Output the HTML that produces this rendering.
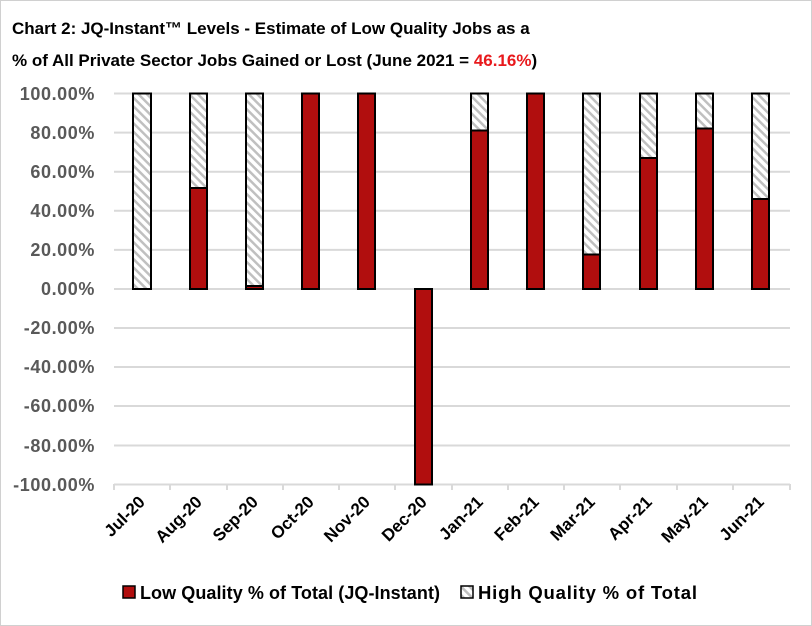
<!DOCTYPE html>
<html><head><meta charset="utf-8"><style>body{margin:0;background:#fff}svg{display:block}</style></head><body>
<svg width="812" height="626" viewBox="0 0 812 626" xmlns="http://www.w3.org/2000/svg" font-family="Liberation Sans, sans-serif" font-weight="bold">
<defs><pattern id="h" width="6" height="6" patternUnits="userSpaceOnUse" patternTransform="rotate(-45)"><rect width="6" height="6" fill="#fff"/><rect width="2.5" height="6" fill="#c0c0c0"/></pattern></defs>
<rect x="0.5" y="0.5" width="811" height="625" fill="#fff" stroke="#d0d0d0"/>
<text x="12" y="34" font-size="17" fill="#000">Chart 2: JQ-Instant™ Levels - Estimate of Low Quality Jobs as a</text>
<text x="12" y="66" font-size="17" fill="#000">% of All Private Sector Jobs Gained or Lost (June 2021  = <tspan fill="#e8191c">46.16%</tspan>)</text>
<g stroke="#d9d9d9" stroke-width="2">
<line x1="114" x2="790" y1="93.5" y2="93.5"/><line x1="114" x2="790" y1="132.6" y2="132.6"/><line x1="114" x2="790" y1="171.7" y2="171.7"/><line x1="114" x2="790" y1="210.8" y2="210.8"/><line x1="114" x2="790" y1="249.9" y2="249.9"/>
<line x1="114" x2="790" y1="328" y2="328"/><line x1="114" x2="790" y1="367" y2="367"/><line x1="114" x2="790" y1="406" y2="406"/><line x1="114" x2="790" y1="445.5" y2="445.5"/><line x1="114" x2="790" y1="484.5" y2="484.5"/>
<line x1="114" x2="790" y1="289" y2="289"/>
<line x1="114" x2="114" y1="484" y2="490"/><line x1="170" x2="170" y1="484" y2="490"/><line x1="227" x2="227" y1="484" y2="490"/><line x1="283" x2="283" y1="484" y2="490"/><line x1="339" x2="339" y1="484" y2="490"/><line x1="395" x2="395" y1="484" y2="490"/><line x1="452" x2="452" y1="484" y2="490"/><line x1="508" x2="508" y1="484" y2="490"/><line x1="564" x2="564" y1="484" y2="490"/><line x1="620" x2="620" y1="484" y2="490"/><line x1="677" x2="677" y1="484" y2="490"/><line x1="733" x2="733" y1="484" y2="490"/><line x1="790" x2="790" y1="484" y2="490"/>
</g>
<g font-size="18" fill="#595959" text-anchor="end" letter-spacing="0.6">
<text x="95" y="100">100.00%</text><text x="95" y="139">80.00%</text><text x="95" y="178">60.00%</text><text x="95" y="217">40.00%</text><text x="95" y="256">20.00%</text><text x="95" y="295">0.00%</text><text x="95" y="334">-20.00%</text><text x="95" y="373">-40.00%</text><text x="95" y="412">-60.00%</text><text x="95" y="452">-80.00%</text><text x="95" y="491">-100.00%</text>
</g>
<g stroke="#000" stroke-width="2">
<rect x="133" y="93.5" width="18" height="195.5" fill="url(#h)"/>
<rect x="190" y="93.5" width="17" height="94.5" fill="url(#h)"/><rect x="190" y="188" width="17" height="101" fill="#b10e0e"/>
<rect x="246" y="93.5" width="17" height="192.5" fill="url(#h)"/><rect x="246" y="286" width="17" height="3" fill="#b10e0e"/>
<rect x="302" y="93.5" width="17" height="195.5" fill="#b10e0e"/>
<rect x="358" y="93.5" width="17" height="195.5" fill="#b10e0e"/>
<rect x="415" y="289" width="17" height="195.5" fill="#b10e0e"/>
<rect x="471" y="93.5" width="17" height="37" fill="url(#h)"/><rect x="471" y="130.5" width="17" height="158.5" fill="#b10e0e"/>
<rect x="527" y="93.5" width="17" height="195.5" fill="#b10e0e"/>
<rect x="583" y="93.5" width="17" height="161" fill="url(#h)"/><rect x="583" y="254.5" width="17" height="34.5" fill="#b10e0e"/>
<rect x="640" y="93.5" width="17" height="64.5" fill="url(#h)"/><rect x="640" y="158" width="17" height="131" fill="#b10e0e"/>
<rect x="696" y="93.5" width="17" height="35" fill="url(#h)"/><rect x="696" y="128.5" width="17" height="160.5" fill="#b10e0e"/>
<rect x="752" y="93.5" width="17" height="105.5" fill="url(#h)"/><rect x="752" y="199" width="17" height="90" fill="#b10e0e"/>
</g>
<g font-size="17" fill="#000" text-anchor="end">
<text transform="translate(146,503) rotate(-45)">Jul-20</text>
<text transform="translate(203,503) rotate(-45)">Aug-20</text>
<text transform="translate(259,503) rotate(-45)">Sep-20</text>
<text transform="translate(315,503) rotate(-45)">Oct-20</text>
<text transform="translate(371,503) rotate(-45)">Nov-20</text>
<text transform="translate(428,503) rotate(-45)">Dec-20</text>
<text transform="translate(484,503) rotate(-45)">Jan-21</text>
<text transform="translate(540,503) rotate(-45)">Feb-21</text>
<text transform="translate(596,503) rotate(-45)">Mar-21</text>
<text transform="translate(653,503) rotate(-45)">Apr-21</text>
<text transform="translate(709,503) rotate(-45)">May-21</text>
<text transform="translate(765,503) rotate(-45)">Jun-21</text>
</g>
<rect x="123" y="586" width="12" height="12" fill="#b10e0e" stroke="#000" stroke-width="1.5"/>
<text x="140" y="599" font-size="18" fill="#000" textLength="300" lengthAdjust="spacing">Low Quality % of Total (JQ-Instant)</text>
<rect x="461" y="586" width="12" height="12" fill="url(#h)" stroke="#000" stroke-width="1.5"/>
<text x="478" y="599" font-size="18.5" fill="#000" textLength="219" lengthAdjust="spacing">High Quality % of Total</text>
</svg>
</body></html>
